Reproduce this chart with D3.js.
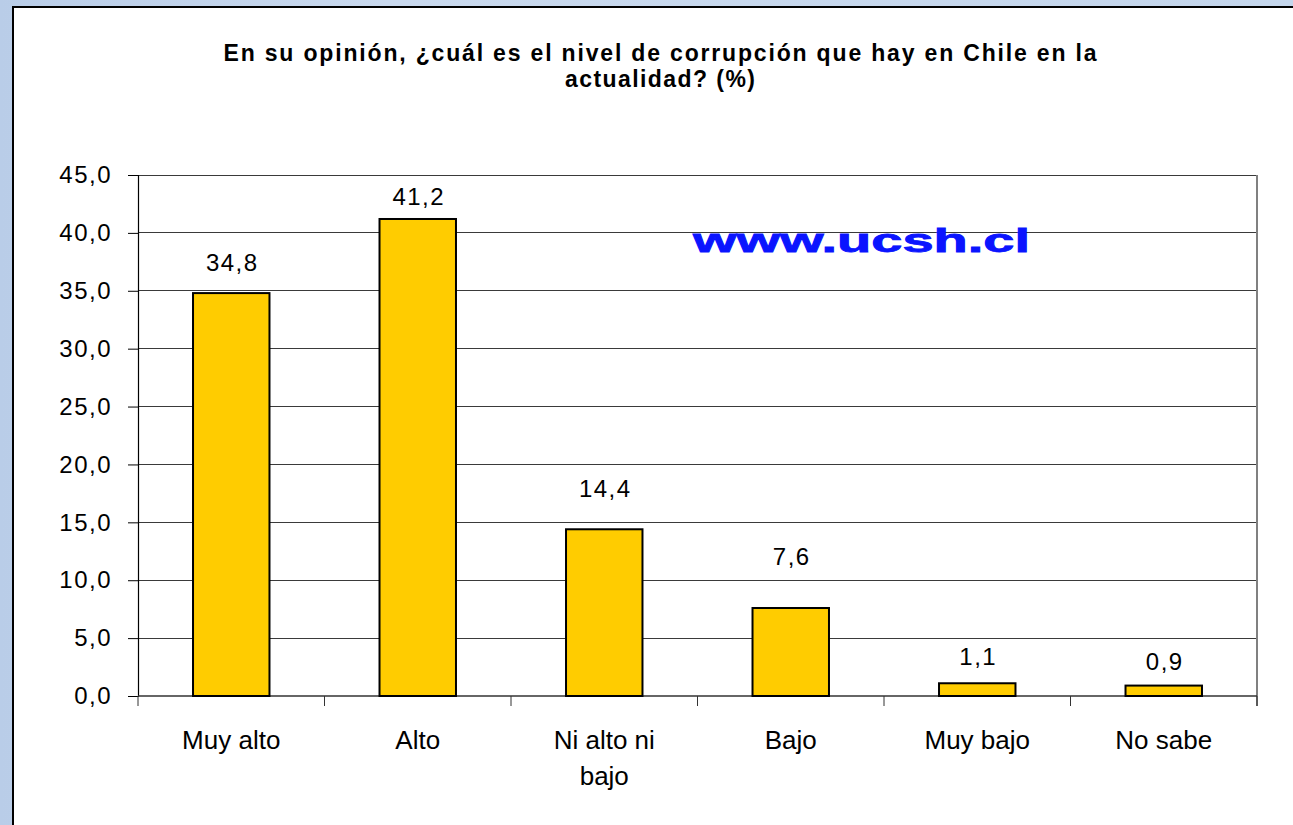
<!DOCTYPE html>
<html>
<head>
<meta charset="utf-8">
<script src="https://cdn.jsdelivr.net/npm/d3@7"></script>
<style>
  html, body { margin: 0; padding: 0; }
  body { width: 1293px; height: 825px; overflow: hidden; }
  text { font-family: Arial, "Liberation Sans", sans-serif; fill: #000; }
</style>
</head>
<body>
<svg id="chart" width="1293" height="825"></svg>
<script>
// chart values
var categories = ["Muy alto", "Alto", "Ni alto ni bajo", "Bajo", "Muy bajo", "No sabe"];
var catLines = [["Muy alto"], ["Alto"], ["Ni alto ni", "bajo"], ["Bajo"], ["Muy bajo"], ["No sabe"]];
var values = [34.8, 41.2, 14.4, 7.6, 1.1, 0.9];
var yTicks = [0, 5, 10, 15, 20, 25, 30, 35, 40, 45];
var titleLines = ["En su opinión, ¿cuál es el nivel de corrupción que hay en Chile en la", "actualidad? (%)"];

// label lift above each bar (px), as placed in the original
var labelLift = [22, 14, 32, 43, 18, 16];

var svg = d3.select("#chart");
var fmt = function(v) { return d3.format(".1f")(v).replace(".", ","); };

// background
var defs = svg.append("defs");
var grad = defs.append("linearGradient").attr("id", "bg").attr("x1", 0).attr("x2", 1).attr("y1", 0).attr("y2", 0);
grad.append("stop").attr("offset", "0%").attr("stop-color", "#b9cde8");
grad.append("stop").attr("offset", "30%").attr("stop-color", "#c9d9ee");
grad.append("stop").attr("offset", "100%").attr("stop-color", "#c4d6ec");
svg.append("rect").attr("width", 1293).attr("height", 825).attr("fill", "url(#bg)");

// chart area
svg.append("rect")
  .attr("x", 13).attr("y", 7).attr("width", 1300).attr("height", 830)
  .attr("fill", "#fff").attr("stroke", "#000").attr("stroke-width", 2);

var plot = { left: 138, right: 1257, top: 175, bottom: 696 };

var x = d3.scaleBand().domain(categories).range([plot.left, plot.right]).padding(0);
var y = d3.scaleLinear().domain([0, 45]).range([plot.bottom, plot.top]);
var barW = x.bandwidth() * 0.41;

// title
svg.append("g").selectAll("text")
  .data(titleLines)
  .enter().append("text")
  .attr("x", 660)
  .attr("y", function(d, i) { return 61 + i * 26; })
  .attr("text-anchor", "middle")
  .attr("font-size", 23)
  .attr("font-weight", "bold")
  .attr("textLength", function(d, i) { return i === 0 ? 873 : 190; })
  .attr("lengthAdjust", "spacing")
  .text(function(d) { return d; });

// gridlines
svg.append("g").selectAll("line")
  .data(yTicks.filter(function(d) { return d > 0; }))
  .enter().append("line")
  .attr("x1", plot.left).attr("x2", plot.right)
  .attr("y1", function(d) { return y(d); }).attr("y2", function(d) { return y(d); })
  .attr("stroke", "#3a3a3a").attr("stroke-width", 1)
  .attr("shape-rendering", "crispEdges");

// right border of plot
svg.append("line")
  .attr("x1", plot.right).attr("x2", plot.right)
  .attr("y1", plot.top).attr("y2", plot.bottom + 10)
  .attr("stroke", "#808080").attr("stroke-width", 2);

// y axis
var yAxis = d3.axisLeft(y).tickValues(yTicks).tickSize(10).tickPadding(16).tickFormat(fmt);
var yg = svg.append("g").attr("transform", "translate(" + plot.left + ",0)").call(yAxis);
yg.select(".domain").attr("stroke", "#000").attr("stroke-width", 1.2);
yg.selectAll(".tick line").attr("stroke", "#000");
yg.selectAll(".tick text")
  .attr("font-size", 24)
  .attr("font-family", "Arial, 'Liberation Sans', sans-serif")
  .attr("letter-spacing", "1.5px")
  .attr("fill", "#000");

// x axis baseline and boundary ticks
svg.append("line")
  .attr("x1", plot.left).attr("x2", plot.right)
  .attr("y1", plot.bottom).attr("y2", plot.bottom)
  .attr("stroke", "#333").attr("stroke-width", 1.5);
var bounds = categories.map(function(c) { return x(c); }).concat([plot.right]);
svg.append("g").selectAll("line")
  .data(bounds)
  .enter().append("line")
  .attr("x1", function(d) { return d; }).attr("x2", function(d) { return d; })
  .attr("y1", plot.bottom).attr("y2", plot.bottom + 10)
  .attr("stroke", "#333").attr("stroke-width", 1);

// watermark
svg.append("text")
  .attr("x", 693).attr("y", 252)
  .attr("font-size", 33)
  .attr("font-weight", "bold")
  .attr("textLength", 337)
  .attr("lengthAdjust", "spacingAndGlyphs")
  .attr("stroke", "#0a14ff").attr("stroke-width", 0.8)
  .style("fill", "#0a14ff")
  .text("www.ucsh.cl");

// bars
svg.append("g").selectAll("rect")
  .data(values)
  .enter().append("rect")
  .attr("x", function(d, i) { return x(categories[i]) + (x.bandwidth() - barW) / 2; })
  .attr("y", function(d) { return y(d); })
  .attr("width", barW)
  .attr("height", function(d) { return y(0) - y(d); })
  .attr("fill", "#ffcc00")
  .attr("stroke", "#000")
  .attr("stroke-width", 2);

// value labels
svg.append("g").selectAll("text")
  .data(values)
  .enter().append("text")
  .attr("x", function(d, i) { return x(categories[i]) + x.bandwidth() / 2 + 1; })
  .attr("y", function(d, i) { return y(d) - labelLift[i]; })
  .attr("text-anchor", "middle")
  .attr("font-size", 24)
  .attr("letter-spacing", "1.5px")
  .text(fmt);

// category labels
var cg = svg.append("g").selectAll("text")
  .data(catLines)
  .enter().append("text")
  .attr("text-anchor", "middle")
  .attr("font-size", 26);
cg.selectAll("tspan")
  .data(function(d, i) { return d.map(function(t) { return { t: t, i: i }; }); })
  .enter().append("tspan")
  .attr("x", function(d) { return x(categories[d.i]) + x.bandwidth() / 2; })
  .attr("y", function(d, j) { return 749 + j * 36; })
  .text(function(d) { return d.t; });
</script>
</body>
</html>
